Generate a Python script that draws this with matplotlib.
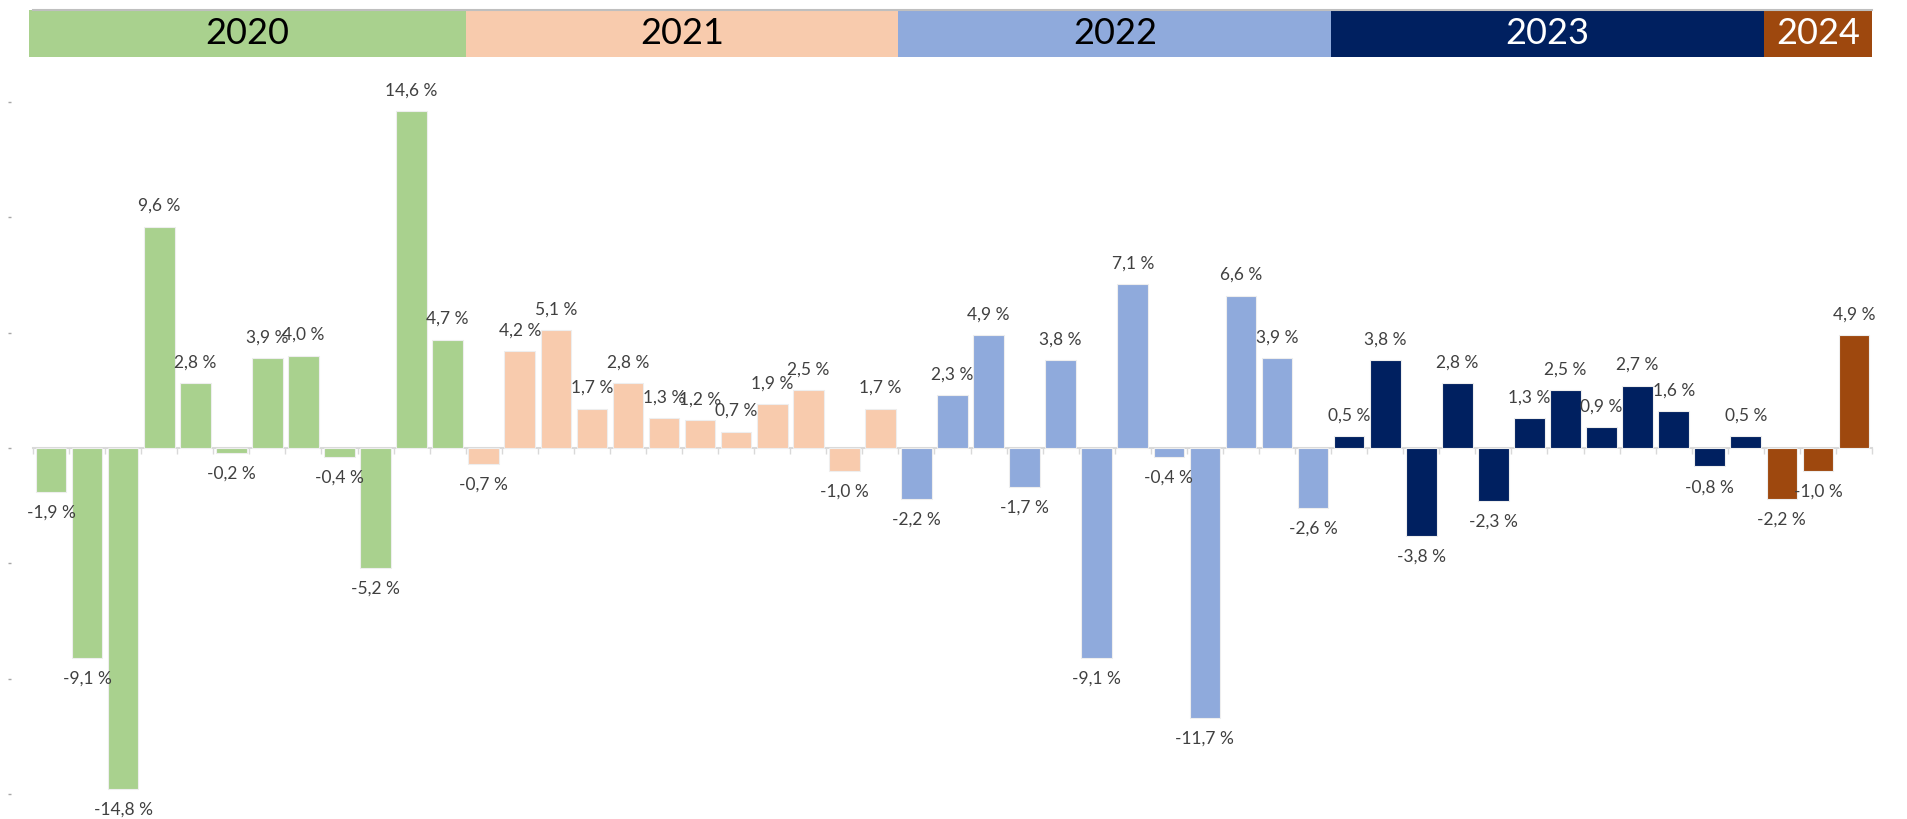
import numpy as np
import matplotlib
matplotlib.use("Agg")
import matplotlib.pyplot as plt

# ── Data: monthly returns (%) ────────────────────────────────────────────────
years = ["2020", "2021", "2022", "2023", "2024"]
ret_2020 = [-1.9, -9.1, -14.8, 9.6, 2.8, -0.2, 3.9, 4.0, -0.4, -5.2, 14.6, 4.7]
ret_2021 = [-0.7, 4.2, 5.1, 1.7, 2.8, 1.3, 1.2, 0.7, 1.9, 2.5, -1.0, 1.7]
ret_2022 = [-2.2, 2.3, 4.9, -1.7, 3.8, -9.1, 7.1, -0.4, -11.7, 6.6, 3.9, -2.6]
ret_2023 = [0.5, 3.8, -3.8, 2.8, -2.3, 1.3, 2.5, 0.9, 2.7, 1.6, -0.8, 0.5]
ret_2024 = [-2.2, -1.0, 4.9]

year_colors = ["#A9D18E", "#F8CBAD", "#8FAADC", "#002060", "#9E480E"]
year_text = ["black", "black", "black", "white", "white"]

series = [ret_2020, ret_2021, ret_2022, ret_2023, ret_2024]
values = np.concatenate(series)
colors = np.concatenate([[c] * len(s) for c, s in zip(year_colors, series)])
x = np.arange(len(values))

plt.rcParams["font.family"] = ["Lato", "DejaVu Sans"]

W, H = 1908, 819
fig = plt.figure(figsize=(W / 100, H / 100), dpi=100)

left, right = 33 / W, 1872 / W
# main axes: from y=80px to bottom
ax = fig.add_axes([left, 0.0, right - left, 1 - 80 / H])
ax.set_xlim(-0.5, len(values) - 0.5)
ax.set_ylim(-16.09, 15.96)

ax.bar(x, values, width=0.85, color=colors, edgecolor="#EEEEEE", linewidth=0.8, zorder=3)

for xi, v in zip(x, values):
    txt = f"{v:.1f} %".replace(".", ",")
    off = 15 if v >= 0 else -15
    ax.annotate(txt, xy=(xi, v), xytext=(0, off), textcoords="offset points",
                ha="center", va="center", fontsize=12.5, color="#404040", zorder=4)

# axis styling
for s in ["top", "right"]:
    ax.spines[s].set_visible(False)
ax.spines["bottom"].set_position(("data", 0))
ax.spines["bottom"].set_color("#D9D9D9")
ax.spines["bottom"].set_linewidth(1.5)
ax.set_xticks(np.arange(-0.5, len(values), 1.0))
ax.set_xticklabels([])
ax.tick_params(axis="x", colors="#D9D9D9", length=4, width=1)
ax.spines["left"].set_position(("outward", 16))
ax.spines["left"].set_visible(False)
ax.set_yticks(np.arange(-15, 16, 5))
ax.set_yticklabels([])
ax.tick_params(axis="y", colors="#A6A6A6", length=2, width=1)
ax.set_facecolor("none")

# header band with years
hx = fig.add_axes([left, 1 - 57 / H, right - left, 47 / H])
hx.set_xlim(-0.5, len(values) - 0.5)
hx.set_ylim(0, 1)
start = -0.62
for yr, s, c, tc in zip(years, series, year_colors, year_text):
    end = start + len(s) if start > -0.5 else -0.5 + len(s)
    hx.barh(0.5, end - start, left=start, height=1.0, color=c, clip_on=False)
    hx.text((start + end) / 2, 0.5, yr, ha="center", va="center",
            fontsize=26, color=tc, clip_on=False)
    start = end
hx.axhline(1.0, color="#BFBFBF", lw=1.5, clip_on=False)
hx.axis("off")

fig.savefig("out.png", dpi=100)
